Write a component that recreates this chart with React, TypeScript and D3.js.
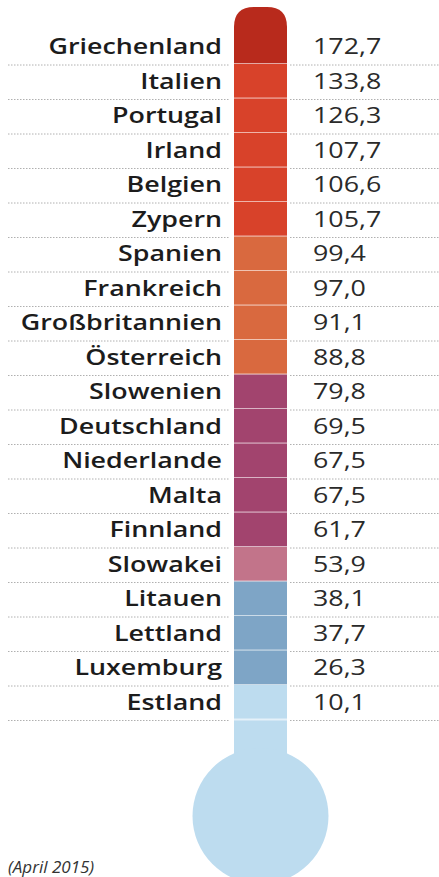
import React from "react";
import * as d3 from "d3";

const countries = [
  "Griechenland", "Italien", "Portugal", "Irland", "Belgien", "Zypern",
  "Spanien", "Frankreich", "Großbritannien", "Österreich", "Slowenien",
  "Deutschland", "Niederlande", "Malta", "Finnland", "Slowakei",
  "Litauen", "Lettland", "Luxemburg", "Estland",
];
const debt = [
  172.7, 133.8, 126.3, 107.7, 106.6, 105.7, 99.4, 97.0, 91.1, 88.8,
  79.8, 69.5, 67.5, 67.5, 61.7, 53.9, 38.1, 37.7, 26.3, 10.1,
];
const thresholds = [20, 40, 60, 80, 100, 150];
const palette = ["#bddcef", "#7ea5c6", "#c2748a", "#a2446e", "#d9693f", "#d8422a", "#b82a1c"];
const note = "(April 2015)";

const W = 439;
const H = 877;

export default function App() {
  const tubeX0 = 234;
  const tubeX1 = 287;
  const tubeW = tubeX1 - tubeX0;
  const cx = (tubeX0 + tubeX1) / 2;
  const topY = 7;
  const y = d3.scaleBand<string>().domain(countries).range([29.5, 719.5]).padding(0);
  const color = d3.scaleThreshold<number, string>().domain(thresholds).range(palette);
  const fmt = (v: number) => d3.format(".1f")(v).replace(".", ",");
  const bw = y.bandwidth();
  const bulbR = 68;
  const bulbCy = 816;
  const r = 20;
  const lastBottom = (y(countries[countries.length - 1]) as number) + bw;

  const firstBottom = (y(countries[0]) as number) + bw;
  const topPath = `M${tubeX0},${firstBottom} L${tubeX0},${topY + r} Q${tubeX0},${topY} ${tubeX0 + r},${topY} L${tubeX1 - r},${topY} Q${tubeX1},${topY} ${tubeX1},${topY + r} L${tubeX1},${firstBottom} Z`;

  return (
    <svg width={W} height={H} style={{ position: "absolute", left: 0, top: 0, background: "#fff" }}>
      <rect x={tubeX0} y={lastBottom - 1} width={tubeW} height={bulbCy - lastBottom} fill={palette[0]} />
      <circle cx={cx} cy={bulbCy} r={bulbR} fill={palette[0]} />
      {countries.map((c, i) => {
        const yb = (y(c) as number) + bw;
        const v = debt[i];
        return (
          <g key={c}>
            {i === 0 ? (
              <path d={topPath} fill={color(v)} />
            ) : (
              <rect x={tubeX0} y={y(c) as number} width={tubeW} height={bw} fill={color(v)} />
            )}
            <line x1={tubeX0} x2={tubeX1} y1={yb} y2={yb} stroke="#fff" strokeOpacity={0.6} strokeWidth={2} />
            <line x1={8} x2={230} y1={yb + 1} y2={yb + 1} stroke="#b0b0b0" strokeWidth={1} strokeDasharray="1.5,1.5" />
            <line x1={290} x2={W} y1={yb + 1} y2={yb + 1} stroke="#b0b0b0" strokeWidth={1} strokeDasharray="1.5,1.5" />
            <text
              transform={`translate(222,${yb - 10}) scale(1.22,1)`}
              textAnchor="end"
              fontFamily="'Open Sans', sans-serif"
              fontWeight={600}
              fontSize={22}
              fill="#1c1c1c"
            >
              {c}
            </text>
            <text
              transform={`translate(313,${yb - 10}) scale(1.22,1)`}
              fontFamily="'Open Sans', sans-serif"
              fontWeight={400}
              fontSize={22}
              fill="#2a2a2a"
            >
              {fmt(v)}
            </text>
          </g>
        );
      })}
      <text x={8} y={873} fontFamily="'Open Sans', sans-serif" fontStyle="italic" fontSize={17} fill="#333">
        {note}
      </text>
    </svg>
  );
}
